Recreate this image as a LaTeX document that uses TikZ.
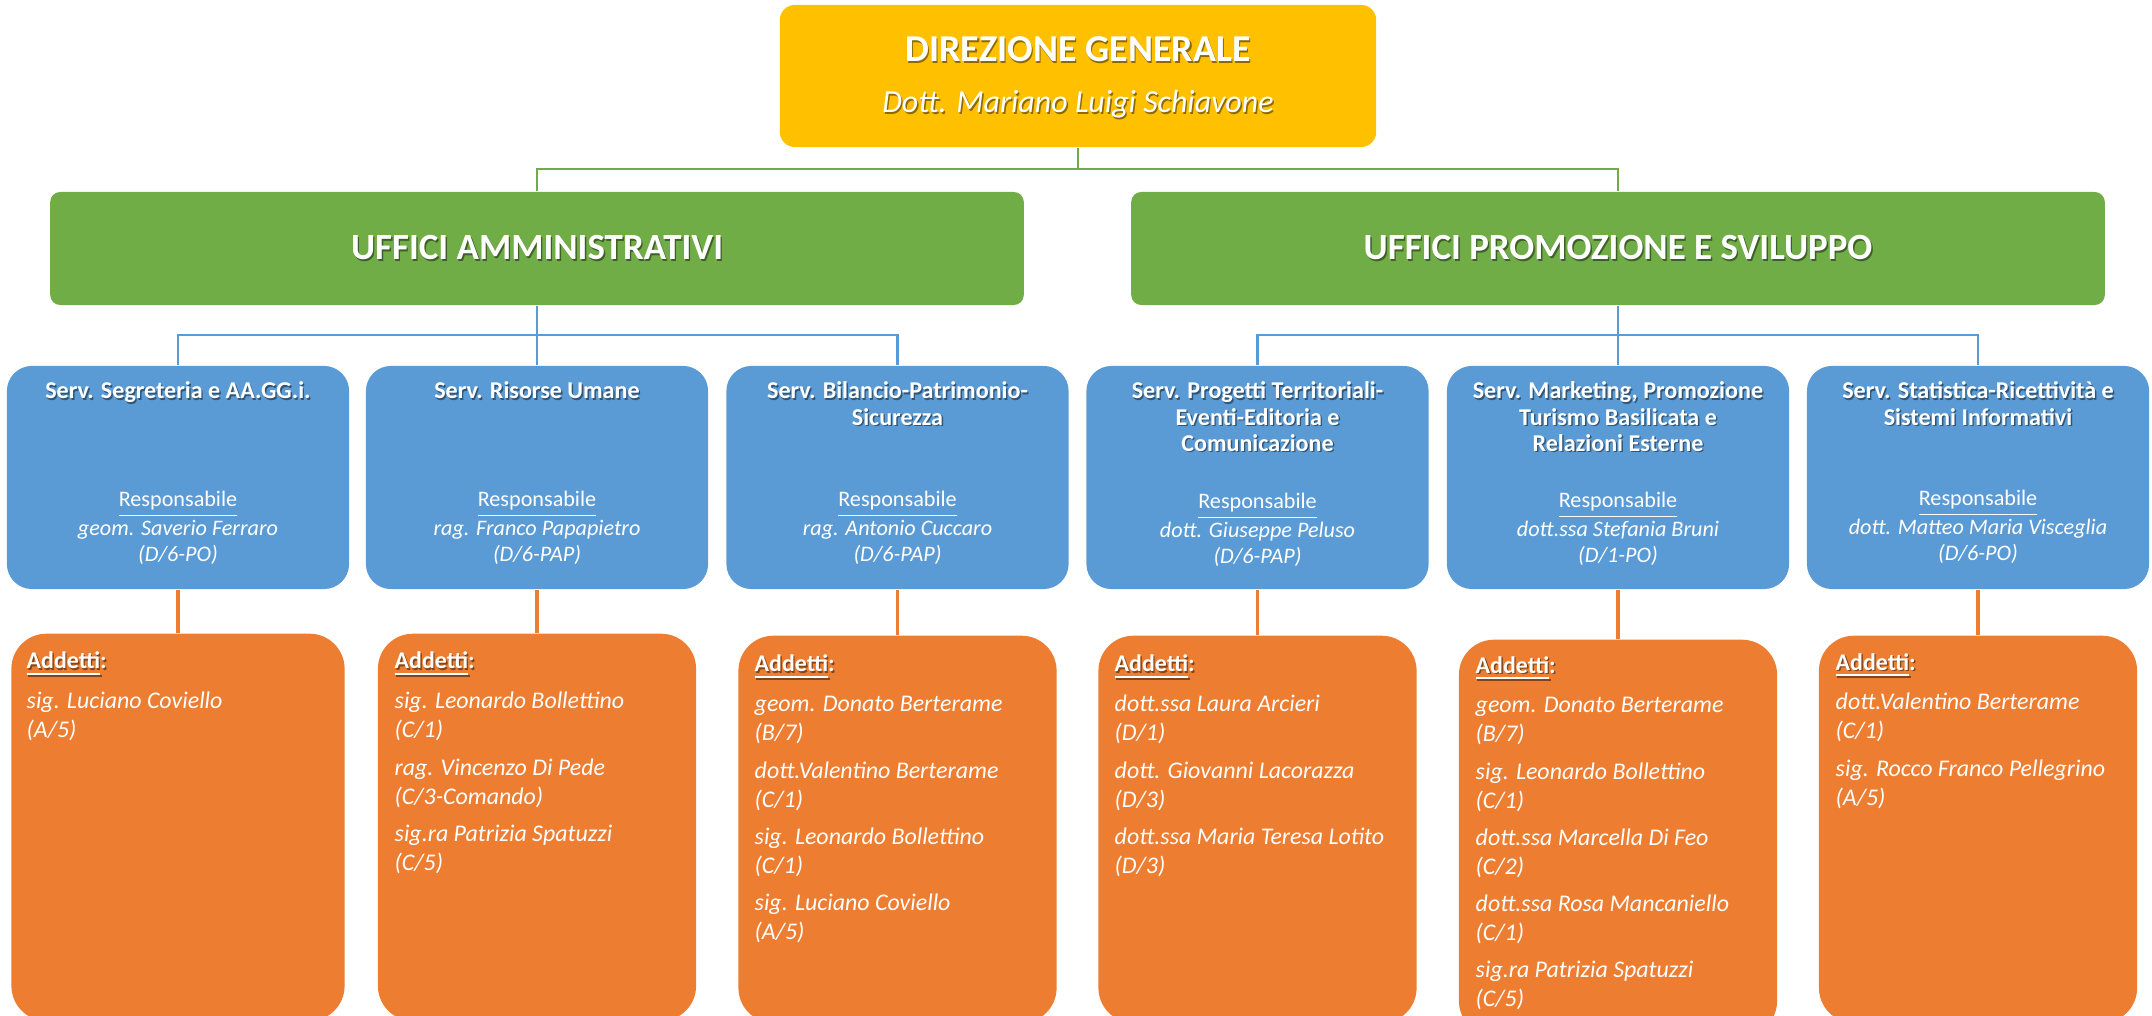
\documentclass[tikz,border=0pt]{standalone}
\usepackage{fontspec}
\setmainfont{Carlito}
\definecolor{dgyellow}{HTML}{FFC000}
\definecolor{ufgreen}{HTML}{70AD47}
\definecolor{svblue}{HTML}{5B9BD5}
\definecolor{adorange}{HTML}{ED7D31}

% white text with a soft dark copy behind it
\newcommand{\shd}[2]{\leavevmode\rlap{\kern0.4pt\raisebox{-0.5pt}{\textcolor{#1!55!black}{#2}}}#2}
% stacked lines, hung from the baseline of the first one
\newcommand{\clines}[1]{\begin{tabular}[t]{@{}c@{}}#1\end{tabular}}
\newcommand{\llines}[1]{\begin{tabular}[t]{@{}l@{}}#1\end{tabular}}

\tikzset{
    topbox/.style={fill=dgyellow, rounded corners=0.15cm, minimum width=5.96cm, minimum height=1.42cm, inner sep=0},
    officebox/.style={fill=ufgreen, rounded corners=0.1cm, minimum width=9.73cm, minimum height=1.13cm, inner sep=0,
        text=white, font=\fontsize{10.5pt}{12pt}\selectfont\bfseries},
    servbox/.style={fill=svblue, rounded corners=0.25cm, minimum width=3.42cm, minimum height=2.23cm, inner sep=0},
    staffbox/.style={fill=adorange, rounded corners=0.35cm, minimum width=3.18cm, minimum height=3.87cm, inner sep=0, anchor=north},
    toptitle/.style={anchor=base, inner sep=0, text=white, font=\fontsize{10.8pt}{13pt}\selectfont\bfseries},
    topsub/.style={anchor=base, inner sep=0, text=white, font=\fontsize{9.1pt}{11pt}\selectfont\itshape},
    servtitle/.style={anchor=base, inner sep=0, text=white, font=\fontsize{6.85pt}{7.4pt}\selectfont\bfseries},
    servresp/.style={anchor=base, inner sep=0, text=white, font=\fontsize{6.3pt}{7.4pt}\selectfont},
    stafftext/.style={anchor=base west, inner sep=0, text=white, font=\fontsize{6.8pt}{8.25pt}\selectfont\itshape},
    gline/.style={draw=ufgreen, line width=0.8pt},
    bline/.style={draw=svblue, line width=0.8pt},
    oline/.style={draw=adorange, line width=0.9pt},
}
\newcommand{\addetti}{\textup{\bfseries\shd{adorange}{\underline{Addetti}:}}\\[3.1pt]}

\begin{document}
\begin{tikzpicture}[x=0.01cm, y=-0.01cm]
    \useasboundingbox (0,0) rectangle (2152,1016);

    %direzione generale
    \node[topbox] (dg) at (1078,76) {};
    \node[toptitle] (dgname) at (1078,62) {\shd{dgyellow}{DIREZIONE GENERALE}};
    \node[topsub] (dgwho) at (1078,113) {\shd{dgyellow}{Dott. Mariano Luigi Schiavone}};

    %uffici
    \node[officebox] (ua) at (537,248.5) {\shd{ufgreen}{UFFICI AMMINISTRATIVI}};
    \node[officebox] (up) at (1618,248.5) {\shd{ufgreen}{UFFICI PROMOZIONE E SVILUPPO}};
    \coordinate (gj) at (1078,169);
    \draw[gline] (dg.south) -- (gj);
    \draw[gline] (ua.north) |- (gj) -| (up.north);

    %servizi
    \node[servbox] (s1) at (178,477.5) {};
    \node[servbox] (s2) at (537,477.5) {};
    \node[servbox] (s3) at (897.5,477.5) {};
    \node[servbox] (s4) at (1257.5,477.5) {};
    \node[servbox] (s5) at (1618,477.5) {};
    \node[servbox] (s6) at (1978,477.5) {};
    \node[servtitle] (s1t) at (178,399) {\shd{svblue}{Serv. Segreteria e AA.GG.i.}};
    \node[servtitle] (s2t) at (537,399) {\shd{svblue}{Serv. Risorse Umane}};
    \node[servtitle] (s3t) at (897.5,399) {\clines{\shd{svblue}{Serv. Bilancio-Patrimonio-}\\\shd{svblue}{Sicurezza}}};
    \node[servtitle] (s4t) at (1257.5,399) {\clines{\shd{svblue}{Serv. Progetti Territoriali-}\\\shd{svblue}{Eventi-Editoria e}\\\shd{svblue}{Comunicazione}}};
    \node[servtitle] (s5t) at (1618,399) {\clines{\shd{svblue}{Serv. Marketing, Promozione}\\\shd{svblue}{Turismo Basilicata e}\\\shd{svblue}{Relazioni Esterne}}};
    \node[servtitle] (s6t) at (1978,399) {\clines{\shd{svblue}{Serv. Statistica-Ricettività e}\\\shd{svblue}{Sistemi Informativi}}};
    \node[servresp] (s1r) at (178,507) {\clines{\underline{Responsabile}\\\textit{geom. Saverio Ferraro}\\\textit{(D/6-PO)}}};
    \node[servresp] (s2r) at (537,507) {\clines{\underline{Responsabile}\\\textit{rag. Franco Papapietro}\\\textit{(D/6-PAP)}}};
    \node[servresp] (s3r) at (897.5,507) {\clines{\underline{Responsabile}\\\textit{rag. Antonio Cuccaro}\\\textit{(D/6-PAP)}}};
    \node[servresp] (s4r) at (1257.5,509) {\clines{\underline{Responsabile}\\\textit{dott. Giuseppe Peluso}\\\textit{(D/6-PAP)}}};
    \node[servresp] (s5r) at (1618,508) {\clines{\underline{Responsabile}\\\textit{dott.ssa Stefania Bruni}\\\textit{(D/1-PO)}}};
    \node[servresp] (s6r) at (1978,506) {\clines{\underline{Responsabile}\\\textit{dott. Matteo Maria Visceglia}\\\textit{(D/6-PO)}}};
    \coordinate (bja) at (537,335);
    \coordinate (bjp) at (1618,335);
    \draw[bline] (ua.south) -- (s2.north);
    \draw[bline] (s1.north) |- (bja) -| (s3.north);
    \draw[bline] (up.south) -- (s5.north);
    \draw[bline] (s4.north) |- (bjp) -| (s6.north);

    %addetti
    \node[staffbox, minimum width=3.33cm] (a1) at (178,633) {};
    \node[staffbox] (a2) at (537,633) {};
    \node[staffbox] (a3) at (897.5,635) {};
    \node[staffbox] (a4) at (1257.5,635) {};
    \node[staffbox, minimum height=3.96cm] (a5) at (1618,639) {};
    \node[staffbox] (a6) at (1978,635) {};
    \node[stafftext] (a1t) at (26,669) {\llines{\addetti sig. Luciano Coviello\\(A/5)}};
    \node[stafftext] (a2t) at (394,669) {\llines{\addetti sig. Leonardo Bollettino\\(C/1)\\[2.3pt]
        rag. Vincenzo Di Pede\\(C/3-Comando)\\[2.3pt]sig.ra Patrizia Spatuzzi\\(C/5)}};
    \node[stafftext] (a3t) at (754,672) {\llines{\addetti geom. Donato Berterame\\(B/7)\\[2.3pt]
        dott.Valentino Berterame\\(C/1)\\[2.3pt]sig. Leonardo Bollettino\\(C/1)\\[2.3pt]
        sig. Luciano Coviello\\(A/5)}};
    \node[stafftext] (a4t) at (1114,672) {\llines{\addetti dott.ssa Laura Arcieri\\(D/1)\\[2.3pt]
        dott. Giovanni Lacorazza\\(D/3)\\[2.3pt]dott.ssa Maria Teresa Lotito\\(D/3)}};
    \node[stafftext] (a5t) at (1475,673) {\llines{\addetti geom. Donato Berterame\\(B/7)\\[2.3pt]
        sig. Leonardo Bollettino\\(C/1)\\[2.3pt]dott.ssa Marcella Di Feo\\(C/2)\\[2.3pt]
        dott.ssa Rosa Mancaniello\\(C/1)\\[2.3pt]sig.ra Patrizia Spatuzzi\\(C/5)}};
    \node[stafftext] (a6t) at (1835,670) {\llines{\addetti dott.Valentino Berterame\\(C/1)\\[2.3pt]
        sig. Rocco Franco Pellegrino\\(A/5)}};
    \draw[oline] (s1.south) -- (a1.north);
    \draw[oline] (s2.south) -- (a2.north);
    \draw[oline] (s3.south) -- (a3.north);
    \draw[oline] (s4.south) -- (a4.north);
    \draw[oline] (s5.south) -- (a5.north);
    \draw[oline] (s6.south) -- (a6.north);

\end{tikzpicture}
\end{document}
